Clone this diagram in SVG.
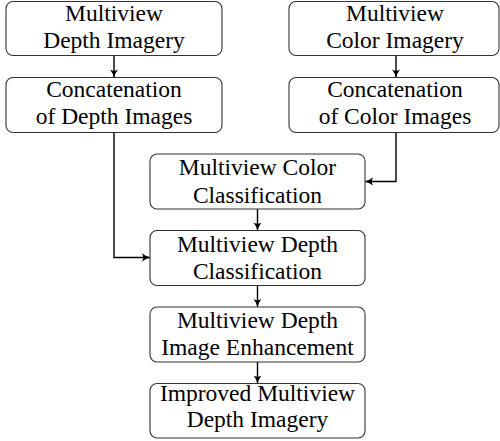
<svg xmlns="http://www.w3.org/2000/svg" width="500" height="441" viewBox="0 0 500 441">
  <style>
    .box { fill: #ffffff; stroke: #333333; stroke-width: 1.1; }
    .lbl { font-family: "Liberation Serif", "Times New Roman", serif; font-size: 23.5px; fill: #000000; text-anchor: middle; }
    .edge { fill: none; stroke: #000000; stroke-width: 1.4; marker-end: url(#head); }
  </style>
  <defs>
    <!-- curved-barb arrow tip, tip at the end of the path -->
    <marker id="head" viewBox="0 0 10 10" refX="9.4" refY="5" markerWidth="9" markerHeight="9" markerUnits="userSpaceOnUse" orient="auto">
      <path d="M0.4,0.6 Q5,4 9.8,5 Q5,6 0.4,9.4 Q3.4,5 0.4,0.6 Z" fill="#000000"/>
    </marker>
  </defs>

  <g id="connectors">
    <path class="edge" d="M114,55.5 V77.5"/>
    <path class="edge" d="M396,55.5 V77.5"/>
    <path class="edge" d="M114,132.5 V257.5 H150"/>
    <path class="edge" d="M396,132.5 V181.5 H365"/>
    <path class="edge" d="M257.5,209 V230.5"/>
    <path class="edge" d="M257.5,285.5 V307"/>
    <path class="edge" d="M257.5,362 V383.5"/>
  </g>

  <g id="depth-imagery">
    <rect class="box" x="6" y="1.5" width="216" height="54" rx="7"/>
    <text class="lbl" x="114" y="21">Multiview</text>
    <text class="lbl" x="114" y="47.5">Depth Imagery</text>
  </g>

  <g id="depth-concat">
    <rect class="box" x="6" y="77.5" width="216" height="55" rx="7"/>
    <text class="lbl" x="114" y="97">Concatenation</text>
    <text class="lbl" x="114" y="124">of Depth Images</text>
  </g>

  <g id="color-imagery">
    <rect class="box" x="289" y="1.5" width="210" height="54" rx="7"/>
    <text class="lbl" x="395" y="21">Multiview</text>
    <text class="lbl" x="395" y="47.5">Color Imagery</text>
  </g>

  <g id="color-concat">
    <rect class="box" x="289" y="77.5" width="210" height="55" rx="7"/>
    <text class="lbl" x="395" y="97">Concatenation</text>
    <text class="lbl" x="395" y="124">of Color Images</text>
  </g>

  <g id="color-classification">
    <rect class="box" x="150" y="154" width="215" height="55" rx="7"/>
    <text class="lbl" x="257.5" y="175">Multiview Color</text>
    <text class="lbl" x="257.5" y="202.5">Classification</text>
  </g>

  <g id="depth-classification">
    <rect class="box" x="150" y="230.5" width="215" height="55" rx="7"/>
    <text class="lbl" x="257.5" y="251.5">Multiview Depth</text>
    <text class="lbl" x="257.5" y="279">Classification</text>
  </g>

  <g id="depth-enhancement">
    <rect class="box" x="150" y="307" width="215" height="55" rx="7"/>
    <text class="lbl" x="257.5" y="327.5">Multiview Depth</text>
    <text class="lbl" x="257.5" y="355">Image Enhancement</text>
  </g>

  <g id="improved-depth">
    <rect class="box" x="150" y="383.5" width="215" height="54.5" rx="7"/>
    <text class="lbl" x="257.5" y="400.5">Improved Multiview</text>
    <text class="lbl" x="257.5" y="427">Depth Imagery</text>
  </g>
</svg>
